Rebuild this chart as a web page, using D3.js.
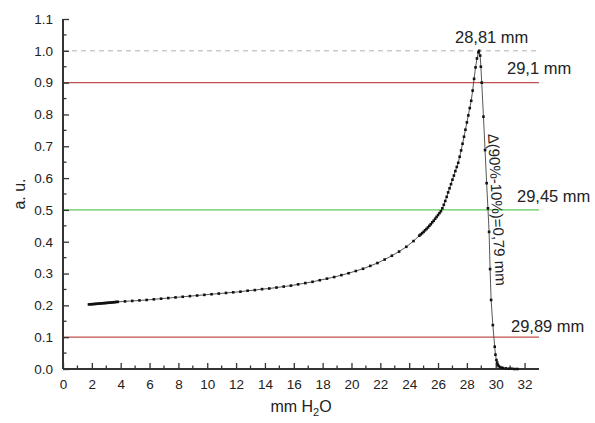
<!DOCTYPE html>
<html>
<head>
<meta charset="utf-8">
<script src="https://cdn.jsdelivr.net/npm/d3@7"></script>
<style>
	body{ margin:0; background:#fff; }
	svg{ display:block; font-family:"Liberation Sans", Arial, sans-serif; }
</style>
</head>
<body>
<svg id="chart" width="595" height="423"></svg>
<script>
var curveX = [1.8,1.9,2.0,2.1,2.2,2.3,2.4,2.5,2.6,2.7,2.8,2.9,3.0,3.1,3.2,3.3,3.4,3.5,3.6,3.7,3.8,
	4.3,4.8,5.3,5.8,6.3,6.8,7.3,7.8,8.3,8.8,9.3,9.8,10.3,10.8,11.3,11.8,12.3,12.8,13.3,13.8,14.3,14.8,
	15.3,15.8,16.3,16.8,17.3,17.8,18.3,18.8,19.3,19.8,20.3,20.8,21.3,21.8,22.3,22.8,23.3,23.8,24.3,
	24.7,24.8,24.9,25.0,25.1,25.2,25.3,25.4,25.5,25.6,25.7,25.8,25.9,26.0,26.1,26.2,
	26.3,26.4,26.5,26.6,26.7,26.8,26.9,27.0,27.1,27.2,27.3,27.4,27.5,27.6,27.7,27.8,27.9,28.0,28.1,
	28.2,28.3,28.4,28.5,28.6,28.7,28.8,28.85,
	28.92,28.97,29.03,29.15,29.26,29.37,29.46,29.54,29.61,29.68,29.8,29.93,29.98,30.05,30.1,30.15,
	30.2,30.3,30.4,30.5,30.7,30.9,31.1,31.3,31.5];
var curveY = [0.203,0.2033,0.2037,0.204,0.2044,0.2048,0.2052,0.2056,0.206,0.2064,0.2068,0.2072,0.2076,0.208,0.2084,0.2088,0.2092,0.2097,0.2102,0.2107,0.2112,
	0.2125,0.214,0.2155,0.217,0.219,0.221,0.223,0.225,0.227,0.229,0.231,0.233,0.235,0.237,0.239,0.241,0.243,0.246,0.248,0.251,0.253,0.256,
	0.259,0.262,0.266,0.27,0.274,0.279,0.284,0.289,0.295,0.301,0.308,0.315,0.324,0.333,0.344,0.356,0.369,0.384,0.402,
	0.419,0.423,0.427,0.431,0.436,0.44,0.445,0.45,0.455,0.461,0.466,0.472,0.478,0.484,0.49,0.496,
	0.505,0.516,0.528,0.541,0.555,0.568,0.581,0.595,0.608,0.622,0.635,0.648,0.667,0.687,0.708,0.73,0.752,0.775,0.797,
	0.82,0.843,0.875,0.912,0.948,0.976,0.995,1.0,
	0.985,0.95,0.9,0.793,0.688,0.584,0.505,0.431,0.314,0.217,0.138,0.07,0.045,0.028,0.02,0.013,
	0.009,0.006,0.004,0.003,0.002,0.001,0.001,0.0,0.0];

// reference levels and their labels
var guideLevels = [1.0, 0.9, 0.5, 0.1];
var guideNames = ["28,81 mm", "29,1 mm", "29,45 mm", "29,89 mm"];
var widthNote = "\u0394(90%-10%)=0,79 mm";

var xTicks = d3.range(0, 33, 2);
var yTicks = d3.range(0, 1.15, 0.1);

var svg = d3.select("#chart");
var x = d3.scaleLinear().domain([0, 33]).range([63, 539]);
var y = d3.scaleLinear().domain([0, 1.1]).range([369, 19]);

var guideColor = ["#b0b0b0", "#c0504d", "#5ccc5c", "#c0504d"];

// horizontal guides
svg.selectAll("line.guide")
	.data(guideLevels)
	.enter().append("line")
	.attr("class", "guide")
	.attr("x1", x(0))
	.attr("x2", x(33))
	.attr("y1", function(d){ return y(d); })
	.attr("y2", function(d){ return y(d); })
	.attr("stroke", function(d, i){ return guideColor[i]; })
	.attr("stroke-width", function(d, i){ return i === 0 ? 1 : 1.2; })
	.attr("stroke-dasharray", function(d, i){ return i === 0 ? "5,4" : null; });

// axes
var xAxis = d3.axisBottom(x).tickValues(xTicks).tickSize(-6).tickPadding(10).tickFormat(d3.format("d"));
var yAxis = d3.axisLeft(y).tickValues(yTicks).tickSize(-6).tickPadding(10).tickFormat(d3.format(".1f"));

var gx = svg.append("g").attr("transform", "translate(0," + y(0) + ")").call(xAxis);
var gy = svg.append("g").attr("transform", "translate(" + x(0) + ",0)").call(yAxis);

// minor ticks
gx.selectAll("line.minor")
	.data(d3.range(1, 33, 2))
	.enter().append("line")
	.attr("class", "minor")
	.attr("x1", function(d){ return x(d); })
	.attr("x2", function(d){ return x(d); })
	.attr("y1", 0).attr("y2", -3.5)
	.attr("stroke", "#333").attr("stroke-width", 1.3);
gy.selectAll("line.minor")
	.data(d3.range(0.05, 1.1, 0.1))
	.enter().append("line")
	.attr("class", "minor")
	.attr("x1", 0).attr("x2", 3.5)
	.attr("y1", function(d){ return y(d); })
	.attr("y2", function(d){ return y(d); })
	.attr("stroke", "#333").attr("stroke-width", 1.3);

[gx, gy].forEach(function(g){
	g.select(".domain").attr("stroke", "#333").attr("stroke-width", 2);
	g.selectAll(".tick line").attr("stroke", "#333").attr("stroke-width", 1.3);
	g.selectAll(".tick text")
		.attr("fill", "#222")
		.style("font-size", "13.5px")
		.style("font-family", "'Liberation Sans', Arial, sans-serif");
});
gy.select(".domain").attr("d", "M0," + y(1.1) + "V" + y(0));
gx.select(".domain").attr("d", "M" + x(0) + ",0H" + x(33));

// the curve
var pts = curveX.map(function(d, i){ return [d, curveY[i]]; });
var line = d3.line()
	.x(function(d){ return x(d[0]); })
	.y(function(d){ return y(d[1]); });

svg.append("path")
	.datum(pts)
	.attr("d", line)
	.attr("fill", "none")
	.attr("stroke", "#444")
	.attr("stroke-width", 0.9);

svg.selectAll("rect.pt")
	.data(pts)
	.enter().append("rect")
	.attr("class", "pt")
	.attr("x", function(d){ return x(d[0]) - 1.3; })
	.attr("y", function(d){ return y(d[1]) - 1.3; })
	.attr("width", 2.6)
	.attr("height", 2.6)
	.attr("fill", "#111");

// level labels
var labelPos = [[455, -8], [507, -9], [517, -8], [511, -5.5]];
svg.selectAll("text.level")
	.data(guideLevels)
	.enter().append("text")
	.attr("class", "level")
	.attr("x", function(d, i){ return labelPos[i][0]; })
	.attr("y", function(d, i){ return y(d) + labelPos[i][1]; })
	.attr("fill", "#222")
	.style("font-size", "16.5px")
	.text(function(d, i){ return guideNames[i]; });

svg.append("text")
	.attr("transform", "translate(492,210) rotate(87)")
	.attr("text-anchor", "middle")
	.attr("fill", "#222")
	.style("font-size", "15px")
	.text(widthNote);

// axis titles
svg.append("text")
	.attr("transform", "translate(25," + ((y(0) + y(1.1)) / 2) + ") rotate(-90)")
	.attr("text-anchor", "middle")
	.attr("fill", "#222")
	.style("font-size", "16px")
	.text("a. u.");

var xt = svg.append("text")
	.attr("x", (x(0) + x(33)) / 2)
	.attr("y", 412)
	.attr("text-anchor", "middle")
	.attr("fill", "#222")
	.style("font-size", "16px");
xt.append("tspan").text("mm H");
xt.append("tspan").attr("dy", 4).style("font-size", "11px").text("2");
xt.append("tspan").attr("dy", -4).text("O");
</script>
</body>
</html>
